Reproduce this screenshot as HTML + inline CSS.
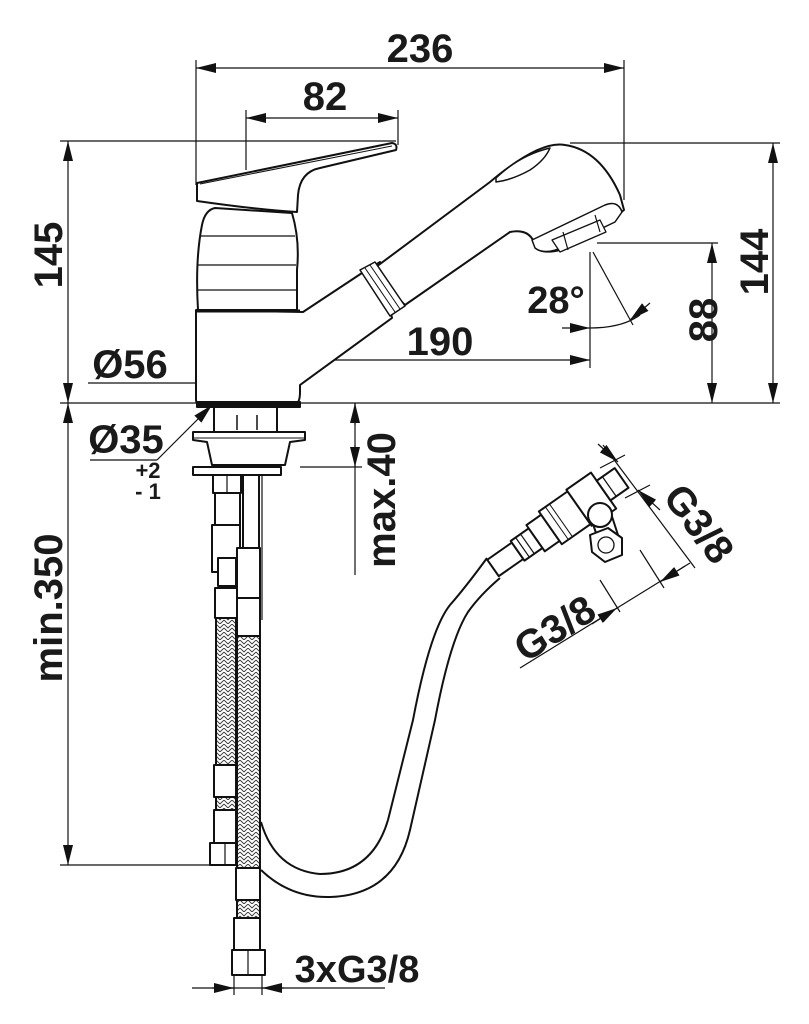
<!DOCTYPE html>
<html><head><meta charset="utf-8"><style>
html,body{margin:0;padding:0;background:#fff}
svg{display:block}
text{font-family:"Liberation Sans",Arial,sans-serif;font-weight:bold;fill:#1a1a1a}
</style></head><body>
<svg width="809" height="1024" viewBox="0 0 809 1024" xmlns="http://www.w3.org/2000/svg">
<defs>
<marker id="a" viewBox="0 0 20 10" refX="20" refY="5" markerWidth="20" markerHeight="10" markerUnits="userSpaceOnUse" orient="auto-start-reverse"><path d="M0,0 L20,5 L0,10 z" fill="#111"/></marker>
<pattern id="br" width="8" height="8" patternUnits="userSpaceOnUse"><path d="M0,0 L4,4 L8,0 M0,4 L4,8 L8,4" stroke="#333" stroke-width="0.9" fill="none"/></pattern>
</defs>
<g stroke="#111" stroke-width="1.2" fill="none">
<line x1="196" y1="60" x2="196" y2="185"/>
<line x1="624" y1="60" x2="624" y2="200"/>
<line x1="196" y1="68" x2="624" y2="68" marker-start="url(#a)" marker-end="url(#a)"/>
<line x1="246" y1="110" x2="246" y2="170"/>
<line x1="398" y1="110" x2="398" y2="145"/>
<line x1="246" y1="118" x2="398" y2="118" marker-start="url(#a)" marker-end="url(#a)"/>
<line x1="60" y1="141" x2="396" y2="141"/>
<line x1="60" y1="403" x2="780" y2="403"/>
<line x1="68" y1="141" x2="68" y2="403" marker-start="url(#a)" marker-end="url(#a)"/>
<line x1="570" y1="143" x2="780" y2="143"/>
<line x1="773" y1="143" x2="773" y2="403" marker-start="url(#a)" marker-end="url(#a)"/>
<line x1="597" y1="243" x2="718" y2="243"/>
<line x1="712" y1="243" x2="712" y2="403" marker-start="url(#a)" marker-end="url(#a)"/>
<line x1="590" y1="252" x2="590" y2="368"/>
<line x1="246" y1="360" x2="590" y2="360" marker-start="url(#a)" marker-end="url(#a)"/>
<line x1="593" y1="252" x2="633" y2="325"/>
<path d="M562,328 L590,328" marker-end="url(#a)"/>
<path d="M590,328 Q622,328 640,315"/>
<path d="M630,320 L650,303" marker-start="url(#a)"/>
<line x1="88" y1="383" x2="298" y2="383"/>
<line x1="196" y1="383" x2="298" y2="383" marker-start="url(#a)" marker-end="url(#a)"/>
<line x1="90" y1="460" x2="157" y2="460"/>
<line x1="157" y1="460" x2="212" y2="405" marker-end="url(#a)"/>
<line x1="355" y1="403" x2="355" y2="575"/>
<line x1="355" y1="425" x2="355" y2="403" marker-end="url(#a)"/>
<line x1="355" y1="445" x2="355" y2="467" marker-end="url(#a)"/>
<line x1="300" y1="467" x2="362" y2="467"/>
<line x1="68" y1="403" x2="68" y2="865" marker-start="url(#a)" marker-end="url(#a)"/>
<line x1="60" y1="865" x2="210" y2="865"/>
<line x1="192" y1="988" x2="385" y2="988"/>
<line x1="212" y1="988" x2="234" y2="988" marker-end="url(#a)"/>
<line x1="284" y1="988" x2="262" y2="988" marker-end="url(#a)"/>
<line x1="234" y1="975" x2="234" y2="995"/>
<line x1="262" y1="975" x2="262" y2="995"/>
<line x1="603" y1="445" x2="695" y2="568"/>
<line x1="598" y1="444" x2="618" y2="462" marker-end="url(#a)"/>
<line x1="660" y1="510" x2="638" y2="490" marker-end="url(#a)"/>
<line x1="600" y1="468" x2="625" y2="455"/>
<line x1="625" y1="498" x2="650" y2="485"/>
<line x1="520" y1="668" x2="690" y2="563"/>
<line x1="592" y1="624" x2="617" y2="608" marker-end="url(#a)"/>
<line x1="685" y1="566" x2="660" y2="582" marker-end="url(#a)"/>
<line x1="600" y1="580" x2="620" y2="612"/>
<line x1="640" y1="550" x2="664" y2="588"/>
</g>
<g stroke="#111" stroke-width="2" fill="#fff" stroke-linejoin="round">
<path d="M196,310 L196,400 Q196,404 200,404 L296,404 Q300,402 300,392 L300,385 L392,318 L380,262 L362,273 L303,312 Z"/>
<path d="M198,310 Q195,260 202,225 Q205,210 215,208 L292,213 Q300,240 297,270 L297,310 Z"/>
<line x1="200" y1="236" x2="295" y2="236" stroke-width="1.2"/>
<line x1="198" y1="265" x2="296" y2="265" stroke-width="1.2"/>
<line x1="198" y1="290" x2="296" y2="290" stroke-width="1.2"/>
<line x1="196" y1="311" x2="300" y2="311" stroke-width="3"/>
<path d="M197,183 L392,143 Q398,144 396,150 L320,168 Q300,172 298,195 L297,212 Q260,210 197,201 Z"/>
<line x1="200" y1="184" x2="392" y2="146" stroke-width="1"/>
<path d="M372,270 L490,182 Q540,140 565,145 Q600,150 620,195 L624,210 L600,228 L560,250 Q540,255 535,245 Q530,228 510,232 L405,305 Z"/>
<path d="M496,178 Q520,155 550,148 Q545,160 530,170 Q512,180 496,182 Z" stroke-width="1.5"/>
<path d="M360,270 L375,262 L405,306 L390,316 Z" stroke-width="1.5"/>
<line x1="365" y1="268" x2="395" y2="312" stroke-width="1"/>
<line x1="370" y1="265" x2="400" y2="309" stroke-width="1"/>
<path d="M532,240 L605,205 Q618,200 622,212 L615,222 L565,246 Q545,256 535,248 Z" stroke-width="1.5"/>
<path d="M552,240 L600,220 L606,232 L560,252 Z" stroke-width="1.3"/>
<line x1="563" y1="232" x2="568" y2="250" stroke-width="1.2"/>
<line x1="595" y1="215" x2="600" y2="232" stroke-width="1.2"/>
<rect x="197" y="402" width="103" height="5" fill="#111"/>
<rect x="214" y="407" width="63" height="25"/>
<path d="M193,432 L305,432 L305,440 L290,442 L285,465 L212,465 L207,442 L193,440 Z"/>
<line x1="193" y1="438" x2="305" y2="438" stroke-width="1"/>
<line x1="237" y1="415" x2="237" y2="430" stroke-width="1.5"/>
<line x1="257" y1="415" x2="257" y2="430" stroke-width="1.5"/>
<rect x="193" y="467" width="88" height="8"/>
<rect x="213" y="475" width="28" height="18"/>
<line x1="227" y1="475" x2="227" y2="493" stroke-width="1.2"/>
<rect x="215" y="493" width="25" height="32"/>
<rect x="212" y="525" width="28" height="47"/>
<rect x="243" y="475" width="16" height="75"/>
<line x1="262" y1="475" x2="262" y2="620" stroke-width="1.2"/>
<rect x="237" y="548" width="23" height="50"/>
<rect x="218" y="558" width="18" height="28"/>
<rect x="215" y="588" width="22" height="30"/>
<rect x="237" y="598" width="23" height="38"/>
<rect x="216" y="618" width="20" height="225" fill="url(#br)"/>
<rect x="237" y="636" width="23" height="300" fill="url(#br)"/>
<rect x="214" y="765" width="22" height="32"/>
<rect x="214" y="810" width="22" height="33"/>
<rect x="210" y="843" width="26" height="22"/>
<rect x="236" y="868" width="24" height="32"/>
<rect x="234" y="918" width="26" height="32"/>
<rect x="232" y="950" width="33" height="25"/>
<line x1="248" y1="950" x2="248" y2="975" stroke-width="1.2"/>
<line x1="225" y1="843" x2="225" y2="865" stroke-width="1.2"/>
<path d="M261,822 Q275,870 320,874 Q372,874 388,820 L413,720 Q430,630 450,605 Q465,588 487,558" fill="none"/>
<path d="M261,870 Q290,898 330,897 Q395,895 410,830 L435,720 Q450,640 468,612 Q480,595 500,578" fill="none"/>
<path d="M585,500 L600,545 L618,535 L605,495 Z"/>
<g transform="translate(493,568) rotate(-35)">
<rect x="0" y="-10" width="30" height="20"/>
<rect x="30" y="-12" width="22" height="24"/>
<line x1="36" y1="-12" x2="36" y2="12" stroke-width="1.2"/>
<line x1="42" y1="-12" x2="42" y2="12" stroke-width="1.2"/>
<rect x="52" y="-16" width="18" height="32"/>
<rect x="70" y="-20" width="35" height="40"/>
<line x1="78" y1="-20" x2="78" y2="20" stroke-width="1"/>
<line x1="83" y1="-20" x2="83" y2="20" stroke-width="1"/>
<rect x="105" y="-22" width="30" height="44"/>
<rect x="135" y="-12" width="22" height="24"/>
<line x1="142" y1="-12" x2="142" y2="12" stroke-width="1.2"/>
</g>
<circle cx="600" cy="515" r="12"/>
<path d="M590,535 L608,528 L622,538 L622,555 L605,562 L592,552 Z"/>
<circle cx="606" cy="545" r="8" stroke-width="1.3"/>
</g>
<text x="420" y="62" font-size="40" text-anchor="middle">236</text>
<text x="325" y="110" font-size="40" text-anchor="middle">82</text>
<text x="440" y="355" font-size="40" text-anchor="middle">190</text>
<text x="556" y="313" font-size="38" text-anchor="middle">28°</text>
<text x="130" y="378" font-size="40" text-anchor="middle">Ø56</text>
<text x="126" y="453" font-size="40" text-anchor="middle">Ø35</text>
<text x="148" y="478" font-size="22" text-anchor="middle">+2</text>
<text x="148" y="499" font-size="22" text-anchor="middle">- 1</text>
<text x="357" y="982" font-size="38" text-anchor="middle">3xG3/8</text>
<text transform="translate(62,255) rotate(-90)" font-size="40" text-anchor="middle">145</text>
<text transform="translate(768,262) rotate(-90)" font-size="40" text-anchor="middle">144</text>
<text transform="translate(717,320) rotate(-90)" font-size="40" text-anchor="middle">88</text>
<text transform="translate(395,500) rotate(-90)" font-size="40" text-anchor="middle">max.40</text>
<text transform="translate(62,608) rotate(-90)" font-size="40" text-anchor="middle">min.350</text>
<text transform="translate(688,532) rotate(53)" font-size="40" text-anchor="middle">G3/8</text>
<text transform="translate(562,640) rotate(-32)" font-size="40" text-anchor="middle">G3/8</text>
</svg>
</body></html>
